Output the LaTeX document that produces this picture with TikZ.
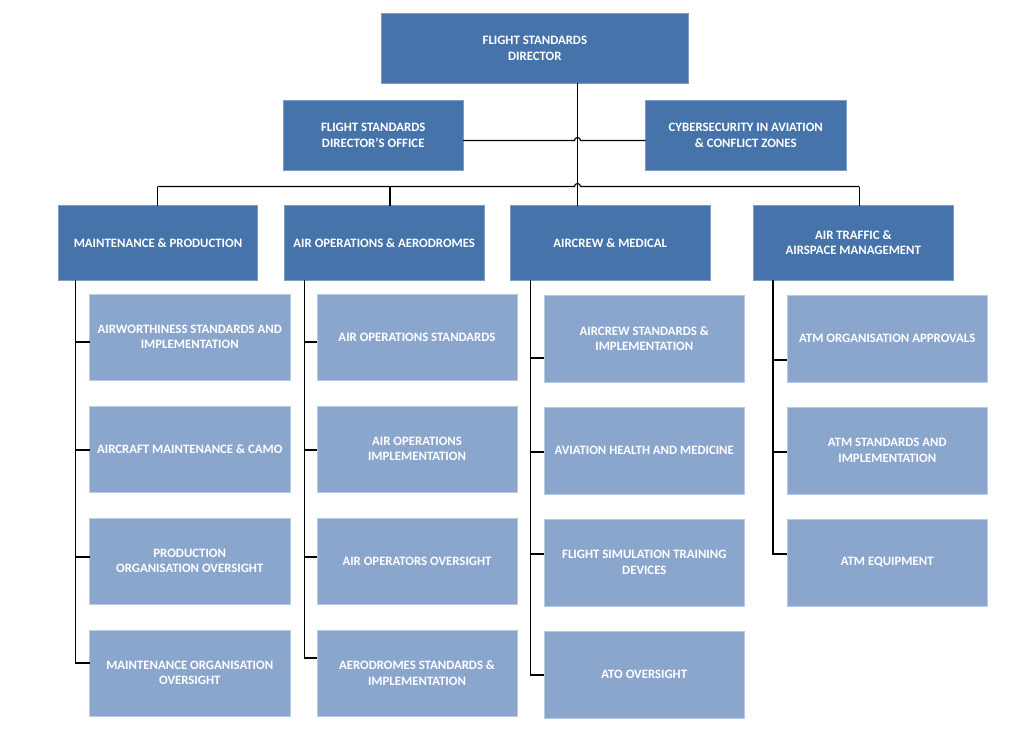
\documentclass[tikz,border=0pt]{standalone}
\usepackage{fontspec}
\setmainfont{Carlito}
\usetikzlibrary{calc}
\definecolor{dkblue}{RGB}{70,116,170}
\definecolor{ltblue}{RGB}{139,166,205}
\begin{document}
\begin{tikzpicture}[x=1pt,y=-1pt,
  box/.style={rectangle, inner sep=2pt, outer sep=0pt, align=center, text=white,
    font=\bfseries\fontsize{12.8}{15.5}\selectfont},
  lvl/.style={box, fill=dkblue, draw=dkblue!70!white, line width=0.6pt},
  sub/.style={box, fill=ltblue, draw=ltblue!60!white, line width=0.6pt},
  conn/.style={line width=1.1pt, black}]
\useasboundingbox (0,0) rectangle (1024,755);
\newcommand\bx[7]{\node[#2, minimum width={(#5-#3)*1pt}, minimum height={(#6-#4)*1pt}] (#1) at ({(#3+#5)/2},{(#4+#6)/2}) {#7};}
% top level
\bx{dir}{lvl}{381.7}{13.3}{688}{83}{FLIGHT STANDARDS\\DIRECTOR}
\bx{off}{lvl}{283.5}{100.5}{463}{170}{FLIGHT STANDARDS\\DIRECTOR’S OFFICE}
\bx{cyb}{lvl}{645.5}{100.5}{846}{170.5}{CYBERSECURITY IN AVIATION\\\& CONFLICT ZONES}
% level 2
\bx{mp}{lvl}{58.3}{205.7}{257.7}{280}{MAINTENANCE \& PRODUCTION}
\bx{ao}{lvl}{284}{205.7}{484.5}{280}{AIR OPERATIONS \& AERODROMES}
\bx{am}{lvl}{510.5}{205.7}{710}{280}{AIRCREW \& MEDICAL}
\bx{at}{lvl}{753.3}{205.7}{953.3}{280}{AIR TRAFFIC \&\\AIRSPACE MANAGEMENT}
% maintenance column
\bx{m1}{sub}{89.5}{294}{290}{380}{AIRWORTHINESS STANDARDS AND\\IMPLEMENTATION}
\bx{m2}{sub}{89.5}{406}{290}{492}{AIRCRAFT MAINTENANCE \& CAMO}
\bx{m3}{sub}{89.5}{518}{290}{604}{PRODUCTION\\ORGANISATION OVERSIGHT}
\bx{m4}{sub}{89.5}{630}{290}{716}{MAINTENANCE ORGANISATION\\OVERSIGHT}
% air operations column
\bx{o1}{sub}{317}{294}{517}{380}{AIR OPERATIONS STANDARDS}
\bx{o2}{sub}{317}{406}{517}{492}{AIR OPERATIONS\\IMPLEMENTATION}
\bx{o3}{sub}{317}{518}{517}{604}{AIR OPERATORS OVERSIGHT}
\bx{o4}{sub}{317}{630}{517}{716}{AERODROMES STANDARDS \&\\IMPLEMENTATION}
% aircrew column
\bx{c1}{sub}{544.3}{295}{744.3}{382}{AIRCREW STANDARDS \&\\IMPLEMENTATION}
\bx{c2}{sub}{544.3}{407}{744.3}{494}{AVIATION HEALTH AND MEDICINE}
\bx{c3}{sub}{544.3}{519}{744.3}{606}{FLIGHT SIMULATION TRAINING\\DEVICES}
\bx{c4}{sub}{544.3}{631}{744.3}{718}{ATO OVERSIGHT}
% ATM column
\bx{t1}{sub}{787}{295}{987.5}{382}{ATM ORGANISATION APPROVALS}
\bx{t2}{sub}{787}{407}{987.5}{494}{ATM STANDARDS AND\\IMPLEMENTATION}
\bx{t3}{sub}{787}{519}{987.5}{606}{ATM EQUIPMENT}
% helper coordinates
\coordinate (v) at (577.5,0);
\coordinate (hy) at (0,140.5);
\coordinate (bus) at (0,186.5);
\coordinate (d1) at (157.7,0);
\coordinate (d2) at (390,0);
\coordinate (d4) at (859.3,0);
\coordinate (tm) at (75.3,0);
\coordinate (to) at (304.5,0);
\coordinate (tc) at (530.5,0);
\coordinate (tt) at (773,0);
% main vertical
\draw[conn] (v |- dir.south) -- (v |- am.north);
% office / cyber line with hop
\draw[conn] (off.east |- hy) -- ($(v |- hy)+(-3,0)$) arc[start angle=180, end angle=0, radius=3pt] -- (cyb.west |- hy);
% bus with hop
\draw[conn] (d1 |- bus) -- ($(v |- bus)+(-3,0)$) arc[start angle=180, end angle=0, radius=3pt] -- (d4 |- bus);
\draw[conn] (d1 |- bus) -- (d1 |- mp.north);
\draw[conn] (d2 |- bus) -- (d2 |- ao.north);
\draw[conn] (d4 |- bus) -- (d4 |- at.north);
% maintenance trunk
\draw[conn] (tm |- mp.south) |- (m4.west |- 0,663);
\draw[conn] (tm |- 0,342) -- (m1.west |- 0,342);
\draw[conn] (tm |- 0,450) -- (m2.west |- 0,450);
\draw[conn] (tm |- 0,557) -- (m3.west |- 0,557);
% air operations trunk
\draw[conn] (to |- ao.south) |- (o4.west |- 0,658);
\draw[conn] (to |- 0,342) -- (o1.west |- 0,342);
\draw[conn] (to |- 0,450) -- (o2.west |- 0,450);
\draw[conn] (to |- 0,557) -- (o3.west |- 0,557);
% aircrew trunk
\draw[conn] (tc |- am.south) |- (c4.west |- 0,675);
\draw[conn] (tc |- 0,358) -- (c1.west |- 0,358);
\draw[conn] (tc |- 0,452) -- (c2.west |- 0,452);
\draw[conn] (tc |- 0,554) -- (c3.west |- 0,554);
% ATM trunk
\draw[conn] (tt |- at.south) |- (t3.west |- 0,554);
\draw[conn] (tt |- 0,360) -- (t1.west |- 0,360);
\draw[conn] (tt |- 0,452) -- (t2.west |- 0,452);
\end{tikzpicture}
\end{document}
